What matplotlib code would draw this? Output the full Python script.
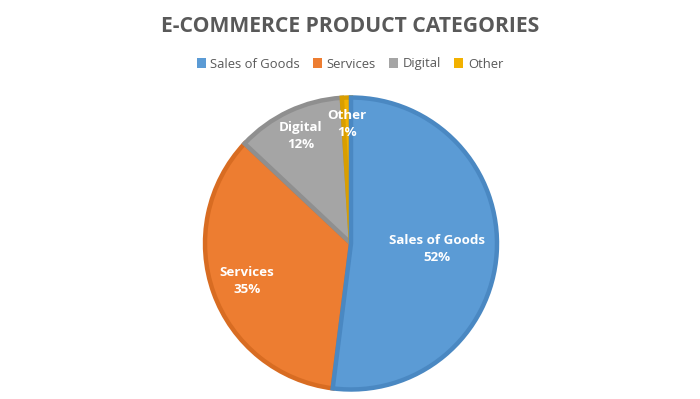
import matplotlib.pyplot as plt
import numpy as np
from matplotlib.patches import Patch

# data
categories = ["Sales of Goods", "Services", "Digital", "Other"]
shares = [52, 35, 12, 1]
colors = ["#5B9BD5", "#ED7D31", "#A5A5A5", "#F2B100"]
edges = ["#4A88C2", "#D86C22", "#8F8F8F", "#D99E00"]
label_dist = [0.59, 0.76, 0.81, 0.82]

plt.rcParams['font.family'] = ['Open Sans', 'DejaVu Sans']

fig = plt.figure(figsize=(7, 3.99), dpi=100)
ax = fig.add_axes([0, 0, 1, 1])

cx, cy, r = 351, 243.5, 146
wedges, _ = ax.pie(shares, colors=colors, startangle=90, counterclock=False,
                   center=(cx, cy), radius=r, frame=True,
                   wedgeprops=dict(linewidth=3.2, joinstyle='miter'))
for i, (w, ec) in enumerate(zip(wedges, edges)):
    w.set_edgecolor(ec)
    w.set_zorder(5 - i if i == 0 else 1 + i)
# pie draws with y going up; the axis is flipped so mirror angles
for w in wedges:
    t1, t2 = w.theta1, w.theta2
    w.set_theta1(-t2)
    w.set_theta2(-t1)

ax.set_xlim(0, 700)
ax.set_ylim(399, 0)
ax.set_aspect('equal')
ax.axis('off')

for w, name, val, d in zip(wedges, categories, shares, label_dist):
    mid = np.deg2rad((w.theta1 + w.theta2) / 2)
    x = cx + d * r * np.cos(mid)
    y = cy + d * r * np.sin(mid)
    ax.text(x, y, f"{name}\n{val}%", ha='center', va='center', color='white',
            fontsize=9.6, fontweight='bold', linespacing=1.4, zorder=10)

fig.text(0.5, 1 - 26 / 399, "E-COMMERCE PRODUCT CATEGORIES", ha='center', va='center',
         fontsize=15.2, fontweight='bold', color='#595959')

handles = [Patch(facecolor=c, edgecolor='none') for c in colors]
fig.legend(handles, categories, loc='center', bbox_to_anchor=(0.5, 1 - 64 / 399),
           ncol=4, frameon=False, fontsize=9.4, labelcolor='#595959',
           handlelength=0.7, handleheight=0.7, handletextpad=0.35, columnspacing=1.0)

fig.savefig("out.png", dpi=100)
